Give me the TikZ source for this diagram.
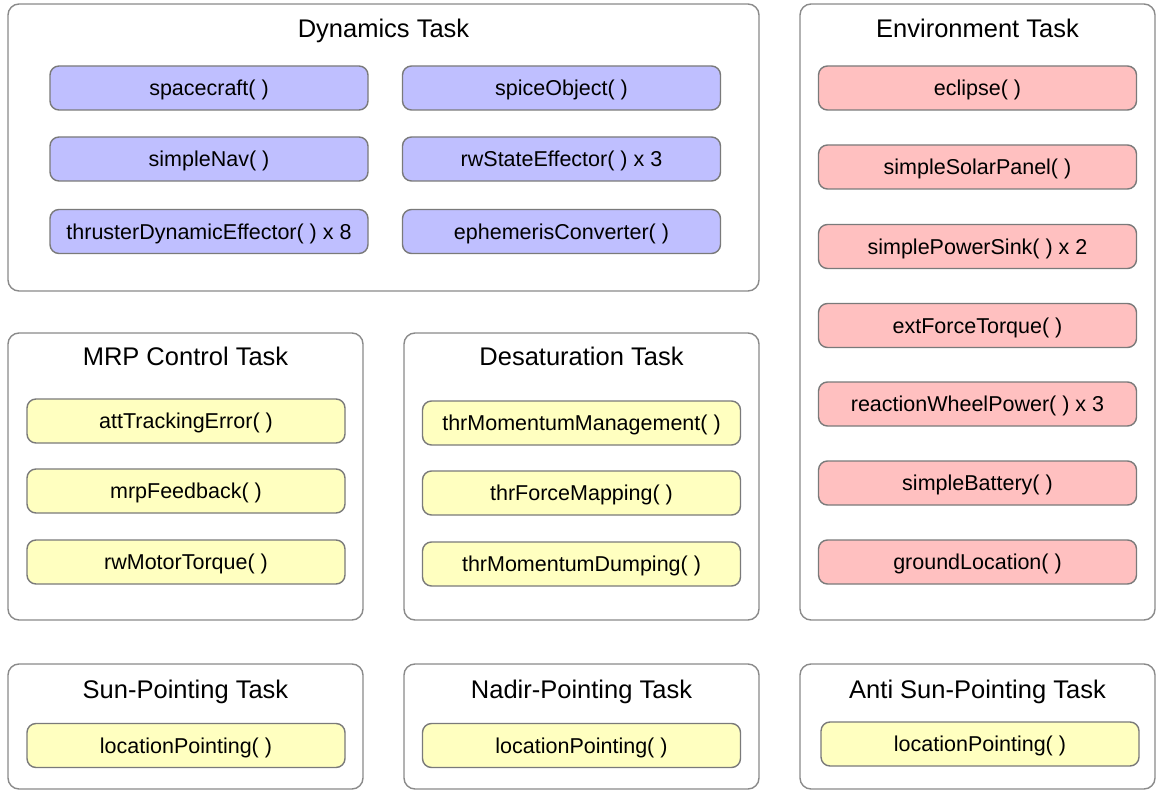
\documentclass[tikz,border=0pt]{standalone}
\usepackage{fontspec}
\setmainfont{Liberation Sans}
\definecolor{taskline}{HTML}{8A8A8A}
\definecolor{modline}{HTML}{7A7A7A}
\definecolor{dynfill}{HTML}{BFBFFF}
\definecolor{envfill}{HTML}{FFC0C0}
\definecolor{fswfill}{HTML}{FFFFC0}
\tikzset{
  taskbox/.style={draw=taskline, line width=1.4pt, rounded corners=11pt, fill=white, inner sep=0pt},
  tasktitle/.style={font=\fontsize{25.5}{30}\selectfont, inner sep=0pt, text height=22.4pt, text depth=5.1pt, anchor=center},
  module/.style={draw=modline, line width=1.4pt, rounded corners=9pt, minimum width=318pt, minimum height=44pt, inner sep=0pt, text height=19.4pt, text depth=4.3pt, font=\fontsize{21.5}{25}\selectfont},
  dynmod/.style={module, fill=dynfill},
  envmod/.style={module, fill=envfill},
  fswmod/.style={module, fill=fswfill},
}
\begin{document}
\begin{tikzpicture}[x=1pt, y=-1pt]
\useasboundingbox (0,0) rectangle (1156,791);

% task containers
\node[taskbox, minimum width=751pt, minimum height=287pt] (dyn) at (383.5,147.5) {};
\node[taskbox, minimum width=355pt, minimum height=616pt] (env) at (977.5,312) {};
\node[taskbox, minimum width=355pt, minimum height=287pt] (mrp) at (185.5,476.5) {};
\node[taskbox, minimum width=355pt, minimum height=287pt] (desat) at (581.5,476.5) {};
\node[taskbox, minimum width=355pt, minimum height=125pt] (sun) at (185.5,726.5) {};
\node[taskbox, minimum width=355pt, minimum height=125pt] (nadir) at (581.5,726.5) {};
\node[taskbox, minimum width=355pt, minimum height=125pt] (antisun) at (977.5,726.5) {};

% task titles
\node[tasktitle] (dynT) at (383.5,29) {Dynamics Task};
\node[tasktitle] (envT) at (977.5,29) {Environment Task};
\node[tasktitle] (mrpT) at (185.5,357) {MRP Control Task};
\node[tasktitle] (desatT) at (581.5,357) {Desaturation Task};
\node[tasktitle] (sunT) at (185.5,690) {Sun-Pointing Task};
\node[tasktitle] (nadirT) at (581.5,690) {Nadir-Pointing Task};
\node[tasktitle] (antisunT) at (977.5,690) {Anti Sun-Pointing Task};

% dynamics modules
\node[dynmod] (sc) at (209,88) {spacecraft( )};
\node[dynmod] (spice) at (561.5,88) {spiceObject( )};
\node[dynmod] (nav) at (209,159) {simpleNav( )};
\node[dynmod] (rw) at (561.5,159) {rwStateEffector( ) x 3};
\node[dynmod] (thr) at (209,231.5) {thrusterDynamicEffector( ) x 8};
\node[dynmod] (eph) at (561.5,231.5) {ephemerisConverter( )};

% environment modules
\node[envmod] (ecl) at (977.5,88) {eclipse( )};
\node[envmod] (solar) at (977.5,167) {simpleSolarPanel( )};
\node[envmod] (sink) at (977.5,246.5) {simplePowerSink( ) x 2};
\node[envmod] (ext) at (977.5,325.5) {extForceTorque( )};
\node[envmod] (rwp) at (977.5,404) {reactionWheelPower( ) x 3};
\node[envmod] (batt) at (977.5,483) {simpleBattery( )};
\node[envmod] (gnd) at (977.5,562) {groundLocation( )};

% MRP control modules
\node[fswmod] (att) at (186,421) {attTrackingError( )};
\node[fswmod] (fb) at (186,491) {mrpFeedback( )};
\node[fswmod] (mot) at (186,562) {rwMotorTorque( )};

% desaturation modules
\node[fswmod] (mom) at (581.5,423) {thrMomentumManagement( )};
\node[fswmod] (map) at (581.5,493) {thrForceMapping( )};
\node[fswmod] (dump) at (581.5,564) {thrMomentumDumping( )};

% pointing modules
\node[fswmod] (sunLP) at (186,745.5) {locationPointing( )};
\node[fswmod] (nadirLP) at (581.5,745.5) {locationPointing( )};
\node[fswmod] (antisunLP) at (980,744) {locationPointing( )};
\end{tikzpicture}
\end{document}
